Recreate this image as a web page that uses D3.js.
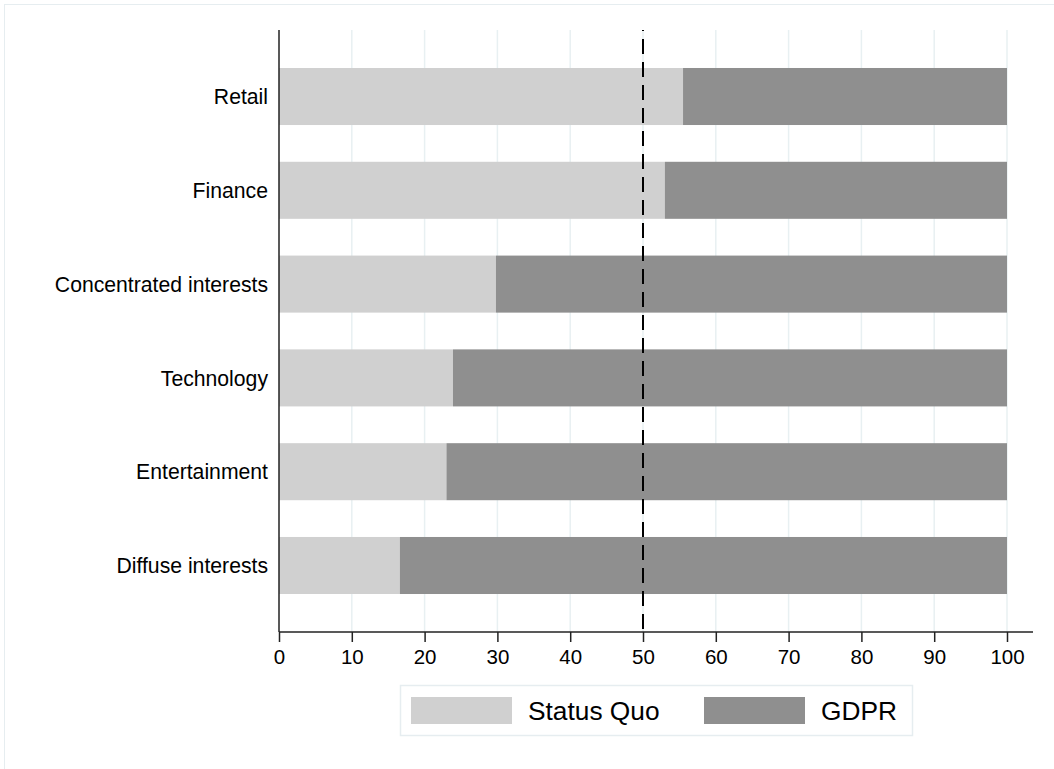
<!DOCTYPE html>
<html>
<head>
<meta charset="utf-8">
<script src="https://cdn.jsdelivr.net/npm/d3@7"></script>
<style>
  html, body { margin: 0; padding: 0; background: #fff; }
  svg { display: block; font-family: "Liberation Sans", Arial, Helvetica, sans-serif; }
</style>
</head>
<body>
<svg id="chart" width="1054" height="769"></svg>
<script>
const categories = ["Retail", "Finance", "Concentrated interests", "Technology", "Entertainment", "Diffuse interests"];
const statusQuo = [55.5, 53.0, 29.8, 23.9, 23.0, 16.6];
const gdpr = [44.5, 47.0, 70.2, 76.1, 77.0, 83.4];
const xTicks = [0, 10, 20, 30, 40, 50, 60, 70, 80, 90, 100];
const seriesNames = ["Status Quo", "GDPR"];
const refLine = 50;

const colors = ["#d0d0d0", "#8f8f8f"];
const svg = d3.select("#chart");

// outer frame
svg.append("rect").attr("x", 4.5).attr("y", 4.5).attr("width", 1080).attr("height", 800)
  .attr("fill", "#fff").attr("stroke", "#e6edf0").attr("stroke-width", 1);

const pLeft = 279, pRight = 1007, pTop = 30, pBottom = 632;
const x = d3.scaleLinear().domain([0, 100]).range([pLeft, pRight]);
const y = d3.scaleBand().domain(categories).range([pTop, pBottom]).paddingInner(0.392).paddingOuter(0.405);

// gridlines
svg.append("g").selectAll("line").data(xTicks.filter(d => d > 0)).join("line")
  .attr("x1", d => x(d)).attr("x2", d => x(d))
  .attr("y1", pTop).attr("y2", pBottom)
  .attr("stroke", "#e8f0f2").attr("stroke-width", 1.5);

// stacked bars
const rows = categories.map((c, i) => ({ cat: c, sq: statusQuo[i], g: gdpr[i] }));
const stack = d3.stack().keys(["sq", "g"])(rows);
svg.append("g").selectAll("g").data(stack).join("g")
  .attr("fill", (d, i) => colors[i])
  .selectAll("rect").data(d => d).join("rect")
  .attr("x", d => x(d[0]))
  .attr("width", d => x(d[1]) - x(d[0]))
  .attr("y", d => y(d.data.cat))
  .attr("height", y.bandwidth());

// reference dashed line
svg.append("line")
  .attr("x1", x(refLine)).attr("x2", x(refLine))
  .attr("y1", pTop).attr("y2", pBottom)
  .attr("stroke", "#000").attr("stroke-width", 2)
  .attr("stroke-dasharray", "15,8").attr("stroke-dashoffset", 14);

// x axis
const xAxis = d3.axisBottom(x).tickValues(xTicks).tickSize(10).tickPadding(7.5).tickSizeOuter(0);
const gx = svg.append("g").attr("transform", `translate(0,${pBottom})`).call(xAxis);
gx.select(".domain").remove();
gx.selectAll(".tick line").attr("stroke", "#222").attr("stroke-width", 1.5);
gx.selectAll(".tick text").attr("font-size", 20.5).attr("fill", "#000")
  .attr("font-family", "'Liberation Sans', Arial, Helvetica, sans-serif");
svg.append("line").attr("x1", pLeft).attr("x2", 1033).attr("y1", pBottom).attr("y2", pBottom)
  .attr("stroke", "#222").attr("stroke-width", 1.5);

// y axis
svg.append("line").attr("x1", pLeft).attr("x2", pLeft).attr("y1", pTop).attr("y2", pBottom)
  .attr("stroke", "#222").attr("stroke-width", 1.5);
svg.append("g").selectAll("text").data(categories).join("text")
  .attr("x", pLeft - 11)
  .attr("y", d => y(d) + y.bandwidth() / 2)
  .attr("dy", "0.36em")
  .attr("text-anchor", "end")
  .attr("font-size", 21.2)
  .attr("fill", "#000")
  .text(d => d);

// legend
const lg = svg.append("g");
lg.append("rect").attr("x", 400.5).attr("y", 685.5).attr("width", 512).attr("height", 50)
  .attr("fill", "#fff").attr("stroke", "#e6edf0").attr("stroke-width", 1.5);
const swX = [411, 704], txX = [528, 821];
seriesNames.forEach((s, i) => {
  lg.append("rect").attr("x", swX[i]).attr("y", 697).attr("width", 101).attr("height", 27).attr("fill", colors[i]);
  lg.append("text").attr("x", txX[i]).attr("y", 711).attr("dy", "0.36em")
    .attr("font-size", 26.3).attr("fill", "#000").text(s);
});
</script>
</body>
</html>
